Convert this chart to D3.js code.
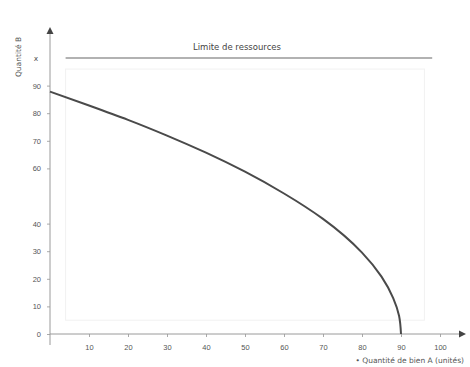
<!DOCTYPE html>
<html>
<head>
<meta charset="utf-8">
<script src="https://cdn.jsdelivr.net/npm/d3@7"></script>
<style>
  html, body { margin: 0; padding: 0; background: #fff; }
  svg { display: block; font-family: "DejaVu Sans", sans-serif; }
</style>
</head>
<body>
<svg id="chart" width="470" height="367"></svg>
<script>
// Frontier points: quantity of good A (x) against quantity of good B (y)
const frontierX = [0, 10, 20, 30, 40, 50, 60, 70, 80, 85, 88, 89.5, 90];
const frontierY = [87.8, 82.8, 77.6, 71.9, 65.7, 58.8, 50.9, 41.7, 29.5, 20.8, 13, 6.6, 0];

// Resource ceiling drawn as a horizontal line
const ceilingValue = [100];

// Axis tick values
const xTicks = [10, 20, 30, 40, 50, 60, 70, 80, 90, 100];
const yTicks = [0, 10, 20, 30, 40, 60, 70, 80, 90];

const titleText = "Limite de ressources";
const xLabel = "Quantité de bien A (unités)";
const yLabel = "Quantité B";

const svg = d3.select("#chart");

const x = d3.scaleLinear().domain([0, 100]).range([50, 440]);
const y = d3.scaleLinear().domain([0, 100]).range([334, 58]);

// faint plot frame
svg.append("rect")
  .attr("x", x(4)).attr("y", y(96))
  .attr("width", x(96) - x(4)).attr("height", y(5) - y(96))
  .attr("fill", "none").attr("stroke", "#f1f1f1");

// x axis
const xAxis = svg.append("g")
  .attr("transform", `translate(0,${y(0)})`)
  .call(d3.axisBottom(x).tickValues(xTicks).tickSize(3).tickPadding(8));
xAxis.select(".domain").remove();
xAxis.append("line")
  .attr("x1", x(0)).attr("x2", 462)
  .attr("stroke", "#9a9a9a").attr("stroke-width", 1);
xAxis.append("path")
  .attr("d", "M466,0 L459,-3.5 L459,3.5 Z")
  .attr("fill", "#444");

// y axis
const yAxis = svg.append("g")
  .attr("transform", `translate(${x(0)},0)`)
  .call(d3.axisLeft(y).tickValues(yTicks).tickSize(3).tickPadding(6));
yAxis.select(".domain").remove();
yAxis.append("line")
  .attr("y1", 345).attr("y2", 32)
  .attr("stroke", "#9a9a9a").attr("stroke-width", 1);
yAxis.append("path")
  .attr("d", "M0,27 L-3.5,34 L3.5,34 Z")
  .attr("fill", "#444");

svg.selectAll(".tick text").attr("fill", "#555").attr("font-size", 7.5);
svg.selectAll(".tick line").attr("stroke", "#aaa");

// ceiling line
svg.selectAll(".ceiling")
  .data(ceilingValue)
  .join("line")
  .attr("class", "ceiling")
  .attr("x1", x(4)).attr("x2", x(98))
  .attr("y1", d => y(d)).attr("y2", d => y(d))
  .attr("stroke", "#999").attr("stroke-width", 1.3);

svg.selectAll(".ceiling-label")
  .data(ceilingValue)
  .join("text")
  .attr("x", 36).attr("y", d => y(d) + 3)
  .attr("text-anchor", "middle")
  .attr("font-size", 7.5).attr("fill", "#555")
  .text("x");

// title above the ceiling
svg.append("text")
  .attr("x", 237).attr("y", 50)
  .attr("text-anchor", "middle")
  .attr("font-size", 8.5).attr("fill", "#444")
  .text(titleText);

// frontier curve
const pts = frontierX.map((v, i) => [v, frontierY[i]]);
svg.append("path")
  .datum(pts)
  .attr("fill", "none")
  .attr("stroke", "#4a4a4a")
  .attr("stroke-width", 2)
  .attr("d", d3.line().x(d => x(d[0])).y(d => y(d[1])).curve(d3.curveMonotoneY));

// axis titles
svg.append("text")
  .attr("x", 464).attr("y", 363)
  .attr("text-anchor", "end")
  .attr("font-size", 7.5).attr("fill", "#555")
  .text("• " + xLabel);

svg.append("text")
  .attr("transform", "translate(21,57) rotate(-90)")
  .attr("text-anchor", "middle")
  .attr("font-size", 7.5).attr("fill", "#555")
  .text(yLabel);
</script>
</body>
</html>
